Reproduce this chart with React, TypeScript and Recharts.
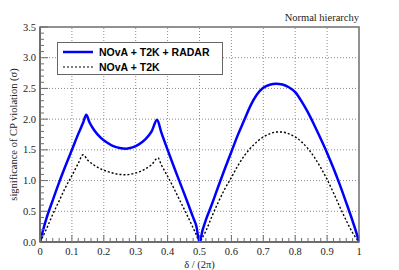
import React from "react";
import {
  LineChart,
  Line,
  XAxis,
  YAxis,
  ReferenceLine,
  ReferenceArea,
} from "recharts";

// NOvA + T2K + RADAR (solid blue)
const radarDelta = [0, 0.01, 0.02, 0.04, 0.06, 0.08, 0.1, 0.12, 0.135, 0.145, 0.155, 0.17, 0.19, 0.21, 0.23, 0.25, 0.27, 0.29, 0.31, 0.33, 0.35, 0.367, 0.38, 0.4, 0.42, 0.44, 0.46, 0.48, 0.49, 0.5, 0.51, 0.52, 0.54, 0.56, 0.58, 0.6, 0.62, 0.64, 0.66, 0.68, 0.7, 0.72, 0.74, 0.76, 0.78, 0.8, 0.82, 0.84, 0.86, 0.88, 0.9, 0.92, 0.94, 0.96, 0.98, 0.99, 1];
const radarSigma = [0, 0.2, 0.38, 0.68, 0.97, 1.24, 1.5, 1.76, 1.94, 2.07, 1.95, 1.82, 1.7, 1.62, 1.56, 1.53, 1.52, 1.54, 1.59, 1.67, 1.8, 1.99, 1.79, 1.5, 1.22, 0.95, 0.68, 0.4, 0.26, 0, 0.2, 0.36, 0.63, 0.92, 1.2, 1.47, 1.74, 1.98, 2.22, 2.4, 2.51, 2.56, 2.575, 2.565, 2.52, 2.44, 2.29, 2.11, 1.9, 1.68, 1.45, 1.2, 0.93, 0.64, 0.34, 0.18, 0];

// NOvA + T2K (dashed black)
const baseDelta = [0, 0.01, 0.02, 0.04, 0.06, 0.08, 0.1, 0.12, 0.135, 0.15, 0.17, 0.19, 0.21, 0.23, 0.25, 0.27, 0.29, 0.31, 0.33, 0.35, 0.37, 0.38, 0.4, 0.42, 0.44, 0.46, 0.48, 0.49, 0.5, 0.51, 0.52, 0.54, 0.56, 0.58, 0.6, 0.62, 0.64, 0.66, 0.68, 0.7, 0.72, 0.74, 0.76, 0.78, 0.8, 0.82, 0.84, 0.86, 0.88, 0.9, 0.92, 0.94, 0.96, 0.98, 0.99, 1];
const baseSigma = [0, 0.1, 0.21, 0.45, 0.67, 0.89, 1.08, 1.28, 1.42, 1.33, 1.25, 1.19, 1.15, 1.12, 1.1, 1.095, 1.11, 1.14, 1.19, 1.26, 1.37, 1.26, 1.07, 0.87, 0.66, 0.45, 0.23, 0.12, 0, 0.08, 0.18, 0.43, 0.66, 0.87, 1.05, 1.24, 1.4, 1.53, 1.63, 1.71, 1.76, 1.79, 1.79, 1.76, 1.71, 1.63, 1.52, 1.38, 1.21, 1.02, 0.8, 0.57, 0.35, 0.15, 0.07, 0];

const xMajorTicks = [0, 0.1, 0.2, 0.3, 0.4, 0.5, 0.6, 0.7, 0.8, 0.9, 1];
const xTickLabels = ["0", "0.1", "0.2", "0.3", "0.4", "0.5", "0.6", "0.7", "0.8", "0.9", "1"];
const yMajorTicks = [0, 0.5, 1, 1.5, 2, 2.5, 3, 3.5];
const yTickLabels = ["0.0", "0.5", "1.0", "1.5", "2.0", "2.5", "3.0", "3.5"];

const seriesNames = ["NOvA + T2K + RADAR", "NOvA + T2K"];

const radarData = radarDelta.map((x, i) => ({ x, y: radarSigma[i] }));
const baseData = baseDelta.map((x, i) => ({ x, y: baseSigma[i] }));

// minor ticks: 5 per major division on both axes
const subdivide = (majors: number[], n: number) => {
  const out: number[] = [];
  for (let i = 0; i < majors.length - 1; i++) {
    const step = (majors[i + 1] - majors[i]) / n;
    for (let k = 0; k < n; k++) out.push(+(majors[i] + k * step).toFixed(4));
  }
  out.push(majors[majors.length - 1]);
  return out;
};
const xAllTicks = subdivide(xMajorTicks, 5);
const yAllTicks = subdivide(yMajorTicks, 5);

const axisColor = "#6e6e6e";
const serif = "'Liberation Serif', 'Times New Roman', serif";
const labelFont = { fontFamily: serif, fontSize: 10.5, fill: "#222" };

const majorIndex = (majors: number[], v: number) =>
  majors.findIndex((m) => Math.abs(m - v) < 1e-6);

const XTick = (props: any) => {
  const { x, y, payload } = props;
  const idx = majorIndex(xMajorTicks, payload.value);
  return (
    <g>
      <line x1={x} x2={x} y1={y} y2={y - (idx >= 0 ? 7 : 4)} stroke={axisColor} strokeWidth={1} />
      {idx >= 0 && (
        <text x={x} y={y + 13} textAnchor="middle" {...labelFont}>
          {xTickLabels[idx]}
        </text>
      )}
    </g>
  );
};

const YTick = (props: any) => {
  const { x, y, payload } = props;
  const idx = majorIndex(yMajorTicks, payload.value);
  return (
    <g>
      <line x1={x} x2={x + (idx >= 0 ? 8 : 4)} y1={y} y2={y} stroke={axisColor} strokeWidth={1} />
      {idx >= 0 && (
        <text x={x - 4} y={y + 3.5} textAnchor="end" {...labelFont}>
          {yTickLabels[idx]}
        </text>
      )}
    </g>
  );
};

const LegendBox = () => (
  <div
    style={{
      position: "absolute",
      left: 57,
      top: 42,
      boxSizing: "border-box",
      width: 166,
      height: 33,
      border: "1px solid #666",
      background: "#fff",
      fontFamily: "'Liberation Sans', Arial, sans-serif",
      fontWeight: "bold",
      fontSize: 10.5,
      color: "#000",
      padding: "1px 0 0 4px",
      zIndex: 2,
    }}
  >
    {seriesNames.map((name, i) => (
      <div key={name} style={{ display: "flex", alignItems: "center", height: 15 }}>
        <svg width={32} height={6} style={{ marginRight: 5 }}>
          <line
            x1={1}
            x2={31}
            y1={3}
            y2={3}
            stroke={i === 0 ? "#0000ff" : "#000"}
            strokeWidth={i === 0 ? 2.5 : 1.2}
            strokeDasharray={i === 0 ? undefined : "2 2"}
          />
        </svg>
        <span>{name}</span>
      </div>
    ))}
  </div>
);

export default function App() {
  return (
    <div style={{ position: "absolute", left: 0, top: 0, width: 399, height: 270, background: "#fff" }}>
      <div
        style={{
          position: "absolute",
          right: 40,
          top: 12,
          fontFamily: serif,
          fontSize: 10.5,
          color: "#222",
          lineHeight: "12px",
        }}
      >
        Normal hierarchy
      </div>
      <LegendBox />
      <LineChart width={399} height={270} margin={{ top: 27, right: 40, bottom: 0, left: 0 }}>
        <ReferenceArea x1={0} x2={1} y1={0} y2={3.5} fill="none" stroke={axisColor} strokeWidth={1.5} />
        {xMajorTicks.slice(1, -1).map((v) => (
          <ReferenceLine key={`gx-${v}`} x={v} stroke="#8a8a8a" strokeDasharray="1 2" />
        ))}
        {yMajorTicks.slice(1, -1).map((v) => (
          <ReferenceLine key={`gy-${v}`} y={v} stroke="#8a8a8a" strokeDasharray="1 2" />
        ))}
        <XAxis
          type="number"
          dataKey="x"
          domain={[0, 1]}
          ticks={xAllTicks}
          interval={0}
          height={28}
          tickSize={0}
          tickMargin={0}
          tick={<XTick />}
          tickLine={false}
          axisLine={{ stroke: axisColor, strokeWidth: 2 }}
          allowDataOverflow
          label={{ value: "δ / (2π)", position: "center", dy: 8, ...labelFont }}
        />
        <YAxis
          type="number"
          dataKey="y"
          domain={[0, 3.5]}
          ticks={yAllTicks}
          interval={0}
          width={40}
          tickSize={0}
          tickMargin={0}
          tick={<YTick />}
          tickLine={false}
          axisLine={{ stroke: axisColor, strokeWidth: 2 }}
          allowDataOverflow
          label={{
            value: "significance of CP violation (σ)",
            angle: -90,
            position: "center",
            dx: -7,
            ...labelFont,
          }}
        />
        <Line
          data={baseData}
          dataKey="y"
          name={seriesNames[1]}
          type="monotone"
          stroke="#000"
          strokeWidth={1.4}
          strokeDasharray="2 2"
          dot={false}
          isAnimationActive={false}
        />
        <Line
          data={radarData}
          dataKey="y"
          name={seriesNames[0]}
          type="monotone"
          stroke="#0000ff"
          strokeWidth={2.5}
          dot={false}
          isAnimationActive={false}
        />
      </LineChart>
    </div>
  );
}
